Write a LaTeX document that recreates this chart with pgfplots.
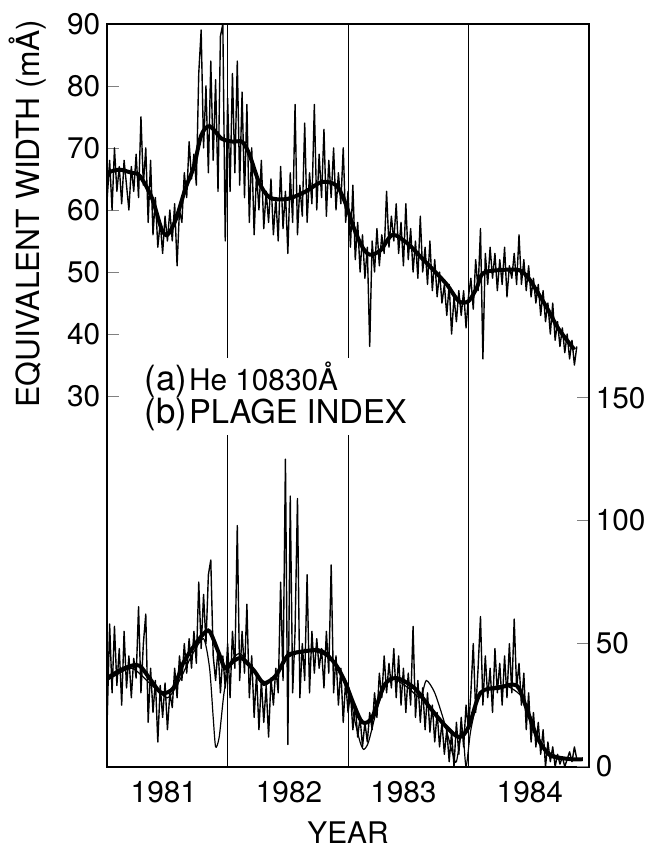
\documentclass[border=0pt]{standalone}
\usepackage{fontspec}
\setmainfont{TeX Gyre Heros}
\usepackage{pgfplots}
\pgfplotsset{compat=1.18}

\begin{document}
\begin{tikzpicture}
% panel (a): He 10830 equivalent width, left axis
\begin{axis}[
    width=242.5pt, height=374pt, scale only axis,
    xmin=1981, xmax=1985,
    ymin=-29.7, ymax=90,
    ytick={30,40,...,90},
    ytick pos=left,
    tick align=inside,
    major tick length=6pt,
    xtick={1981.47,1982.51,1983.46,1984.51},
    xticklabels={1981,1982,1983,1984},
    x tick style={draw=none},
    extra x ticks={1982,1983,1984},
    extra x tick labels={},
    extra x tick style={grid=major, major grid style={black, line width=0.45pt}, major tick length=0pt},
    ticklabel style={font=\fontsize{15}{18}\selectfont},
    x tick label style={yshift=-4pt},
    /pgf/number format/assume math mode=true,
    xlabel={YEAR},
    xlabel style={at={(rel axis cs:0.5,0)}, anchor=north, inner sep=0.5pt, yshift=-27pt, font=\fontsize{15}{18}\selectfont},
    axis line style={line width=1pt},
    clip=false,
]
\coordinate (sw) at (rel axis cs:0,0);
\coordinate (ne) at (rel axis cs:1,1);
\node[rotate=90, font=\fontsize{16}{19}\selectfont] at ([xshift=-40pt]axis cs:1981,59.4) {EQUIVALENT WIDTH (mÅ)};

\addplot[black, line width=0.7pt, line join=round] coordinates {
(1981.00,62) (1981.02,68) (1981.04,60) (1981.06,70) (1981.08,63) (1981.10,67) (1981.12,61) (1981.14,68)
(1981.16,64) (1981.18,60) (1981.20,67) (1981.22,63) (1981.24,69) (1981.26,62) (1981.28,75) (1981.30,64)
(1981.32,70) (1981.34,58) (1981.36,68) (1981.38,56) (1981.40,62) (1981.42,54) (1981.44,58) (1981.46,53)
(1981.48,59) (1981.50,55) (1981.52,60) (1981.54,55) (1981.56,61) (1981.58,51) (1981.60,60) (1981.62,58)
(1981.64,66) (1981.66,62) (1981.68,71) (1981.70,65) (1981.72,69) (1981.74,64) (1981.76,82) (1981.78,89)
(1981.80,70) (1981.82,80) (1981.84,66) (1981.86,84) (1981.88,68) (1981.90,81) (1981.92,63) (1981.94,88)
(1981.96,90) (1981.98,55) (1982.00,78) (1982.02,63) (1982.04,82) (1982.06,66) (1982.08,84) (1982.10,64)
(1982.12,79) (1982.14,62) (1982.16,77) (1982.18,58) (1982.20,70) (1982.22,56) (1982.24,66) (1982.26,60)
(1982.28,68) (1982.30,57) (1982.32,63) (1982.34,58) (1982.36,65) (1982.38,56) (1982.40,62) (1982.42,55)
(1982.44,67) (1982.46,57) (1982.48,63) (1982.50,53) (1982.52,66) (1982.54,58) (1982.56,77) (1982.58,56)
(1982.60,64) (1982.62,59) (1982.64,74) (1982.66,58) (1982.68,66) (1982.70,61) (1982.72,77) (1982.74,60)
(1982.76,69) (1982.78,62) (1982.80,73) (1982.82,59) (1982.84,68) (1982.86,62) (1982.88,70) (1982.90,60)
(1982.92,66) (1982.94,61) (1982.96,70) (1982.98,58) (1983.00,63) (1983.02,54) (1983.04,64) (1983.06,52)
(1983.08,58) (1983.10,50) (1983.12,56) (1983.14,49) (1983.16,54) (1983.18,38) (1983.20,55) (1983.22,50)
(1983.24,57) (1983.26,51) (1983.28,56) (1983.30,53) (1983.32,63) (1983.34,54) (1983.36,59) (1983.38,55)
(1983.40,61) (1983.42,53) (1983.44,58) (1983.46,51) (1983.48,61) (1983.50,52) (1983.52,57) (1983.54,50)
(1983.56,55) (1983.58,49) (1983.60,59) (1983.62,50) (1983.64,54) (1983.66,48) (1983.68,55) (1983.70,47)
(1983.72,52) (1983.74,46) (1983.76,50) (1983.78,45) (1983.80,48) (1983.82,43) (1983.84,48) (1983.86,40)
(1983.88,46) (1983.90,42) (1983.92,47) (1983.94,43) (1983.96,47) (1983.98,41) (1984.00,46) (1984.02,49)
(1984.04,44) (1984.06,52) (1984.08,47) (1984.10,57) (1984.12,36) (1984.14,53) (1984.16,48) (1984.18,54)
(1984.20,49) (1984.22,53) (1984.24,47) (1984.26,52) (1984.28,48) (1984.30,54) (1984.32,46) (1984.34,51)
(1984.36,49) (1984.38,53) (1984.40,48) (1984.42,56) (1984.44,48) (1984.46,52) (1984.48,47) (1984.50,51)
(1984.52,46) (1984.54,49) (1984.56,45) (1984.58,48) (1984.60,43) (1984.62,47) (1984.64,42) (1984.66,45)
(1984.68,40) (1984.70,45) (1984.72,39) (1984.74,42) (1984.76,38) (1984.78,41) (1984.80,37) (1984.82,40)
(1984.84,36) (1984.86,39) (1984.88,35) (1984.90,38)
};
\addplot[black, line width=2pt, smooth, tension=0.5] coordinates {
(1981.00,66) (1981.10,66.5) (1981.20,66) (1981.27,65.5) (1981.37,62) (1981.45,57) (1981.50,56)
(1981.57,58.5) (1981.65,63.5) (1981.72,67) (1981.78,72) (1981.85,73.5) (1981.95,71.5) (1982.05,71)
(1982.12,71) (1982.18,69) (1982.26,64.5) (1982.35,62) (1982.50,61.8) (1982.65,63) (1982.78,64.5)
(1982.90,64) (1982.97,61.5) (1983.05,57) (1983.12,54) (1983.18,52.8) (1983.27,53.5) (1983.37,56)
(1983.50,54.5) (1983.60,52.5) (1983.70,50.5) (1983.82,48) (1983.92,45.3) (1984.00,45.3) (1984.07,47.5)
(1984.12,49.8) (1984.25,50.3) (1984.42,50.3) (1984.50,49) (1984.55,47.5) (1984.65,44.3) (1984.75,40.8)
(1984.88,37.5)
};
\end{axis}

% panel (b): plage index, right axis
\begin{axis}[
    width=242.5pt, height=374pt, scale only axis,
    xmin=1981, xmax=1985,
    ymin=0, ymax=302,
    axis y line*=right,
    axis x line=none,
    ytick={0,50,100,150},
    tick align=inside,
    major tick length=6pt,
    ticklabel style={font=\fontsize{15}{18}\selectfont},
    /pgf/number format/assume math mode=true,
    axis line style={line width=1pt},
]
\addplot[black, line width=0.7pt, line join=round] coordinates {
(1981.00,20) (1981.02,58) (1981.04,30) (1981.06,57) (1981.08,33) (1981.10,48) (1981.12,25) (1981.14,55)
(1981.16,32) (1981.18,45) (1981.20,28) (1981.22,44) (1981.24,36) (1981.26,65) (1981.28,30) (1981.30,50)
(1981.32,62) (1981.34,18) (1981.36,40) (1981.38,22) (1981.40,35) (1981.42,10) (1981.44,33) (1981.46,20)
(1981.48,34) (1981.50,15) (1981.52,30) (1981.54,24) (1981.56,40) (1981.58,28) (1981.60,45) (1981.62,35)
(1981.64,50) (1981.66,38) (1981.68,52) (1981.70,40) (1981.72,55) (1981.74,42) (1981.76,75) (1981.78,48)
(1981.80,70) (1981.82,50) (1981.84,78) (1981.86,84) (1981.88,45) (1981.90,35) (1981.92,48) (1981.94,30)
(1981.96,45) (1981.98,32) (1982.00,50) (1982.02,28) (1982.04,55) (1982.06,40) (1982.08,98) (1982.10,35)
(1982.12,55) (1982.14,38) (1982.16,66) (1982.18,28) (1982.20,45) (1982.22,20) (1982.24,38) (1982.26,15)
(1982.28,35) (1982.30,18) (1982.32,33) (1982.34,12) (1982.36,36) (1982.38,25) (1982.40,40) (1982.42,30)
(1982.44,75) (1982.46,35) (1982.48,125) (1982.50,9) (1982.52,110) (1982.54,30) (1982.56,55) (1982.58,109)
(1982.60,28) (1982.62,50) (1982.64,35) (1982.66,78) (1982.68,30) (1982.70,55) (1982.72,38) (1982.74,52)
(1982.76,40) (1982.78,48) (1982.80,32) (1982.82,55) (1982.84,38) (1982.86,82) (1982.88,30) (1982.90,45)
(1982.92,25) (1982.94,40) (1982.96,18) (1982.98,35) (1983.00,22) (1983.02,30) (1983.04,15) (1983.06,25)
(1983.08,12) (1983.10,20) (1983.12,8) (1983.14,18) (1983.16,10) (1983.18,22) (1983.20,15) (1983.22,30)
(1983.24,20) (1983.26,38) (1983.28,28) (1983.30,45) (1983.32,30) (1983.34,42) (1983.36,32) (1983.38,48)
(1983.40,28) (1983.42,45) (1983.44,25) (1983.46,40) (1983.48,22) (1983.50,38) (1983.52,25) (1983.54,57)
(1983.56,20) (1983.58,35) (1983.60,18) (1983.62,32) (1983.64,15) (1983.66,30) (1983.68,14) (1983.70,25)
(1983.72,10) (1983.74,22) (1983.76,8) (1983.78,18) (1983.80,5) (1983.82,15) (1983.84,2) (1983.86,14)
(1983.88,0) (1983.90,18) (1983.92,5) (1983.94,20) (1983.96,8) (1983.98,25) (1984.00,15) (1984.02,30)
(1984.04,50) (1984.06,22) (1984.08,40) (1984.10,61) (1984.12,25) (1984.14,45) (1984.16,28) (1984.18,40)
(1984.20,22) (1984.22,48) (1984.24,30) (1984.26,42) (1984.28,25) (1984.30,45) (1984.32,28) (1984.34,50)
(1984.36,30) (1984.38,60) (1984.40,32) (1984.42,42) (1984.44,25) (1984.46,38) (1984.48,15) (1984.50,30)
(1984.52,10) (1984.54,22) (1984.56,8) (1984.58,18) (1984.60,5) (1984.62,15) (1984.64,0) (1984.66,10)
(1984.68,2) (1984.70,8) (1984.72,0) (1984.74,5) (1984.76,1) (1984.78,4) (1984.80,0) (1984.82,3)
(1984.84,6) (1984.86,2) (1984.88,8) (1984.90,3)
};
\addplot[black, line width=0.6pt, smooth, tension=0.4] coordinates {
(1981.00,35) (1981.20,40) (1981.35,34) (1981.50,28) (1981.60,35) (1981.70,45) (1981.80,52) (1981.85,40)
(1981.88,20) (1981.90,8) (1981.93,12) (1981.97,30) (1982.02,42) (1982.10,46) (1982.20,40) (1982.30,33)
(1982.40,37) (1982.50,46) (1982.70,47) (1982.85,44) (1983.00,33) (1983.05,20) (1983.10,10) (1983.13,7)
(1983.17,10) (1983.25,25) (1983.35,36) (1983.50,32) (1983.60,28) (1983.65,35) (1983.72,30) (1983.80,18)
(1983.87,5) (1983.90,2) (1983.95,15) (1983.98,0) (1984.02,15) (1984.10,30) (1984.30,33) (1984.45,28)
(1984.55,15) (1984.65,5) (1984.75,3) (1984.90,3)
};
\addplot[black, line width=2pt, smooth, tension=0.5] coordinates {
(1981.00,36) (1981.10,39) (1981.20,41) (1981.27,41) (1981.35,36) (1981.45,30) (1981.55,32) (1981.63,42)
(1981.72,49) (1981.80,54) (1981.85,55) (1981.92,47) (1981.98,40) (1982.05,43) (1982.12,44) (1982.22,39)
(1982.30,34) (1982.40,37) (1982.50,45) (1982.65,47) (1982.78,47) (1982.89,42) (1982.97,35) (1983.05,25)
(1983.12,18) (1983.20,20) (1983.30,33) (1983.40,36) (1983.55,32) (1983.68,24) (1983.80,17) (1983.92,12)
(1984.00,16) (1984.10,30) (1984.25,32) (1984.40,33) (1984.48,24) (1984.57,12) (1984.65,6) (1984.72,4)
(1984.85,3) (1984.95,3)
};
\node[anchor=west, fill=white, inner xsep=1pt, inner ysep=2pt, align=left] at (axis cs:1981.29,150.5)
  {{\fontsize{17.5}{20}\selectfont (a)}\hspace{1pt}{\fontsize{15}{18}\selectfont He 10830Å}\\[-1pt]
   {\fontsize{17.5}{20}\selectfont (b)}\hspace{1pt}{\fontsize{16.5}{19}\selectfont PLAGE INDEX}};
\end{axis}
\pgfresetboundingbox
\path[use as bounding box] ([xshift=-54pt,yshift=-43pt]sw) rectangle ([xshift=30.5pt,yshift=12pt]ne);
\end{tikzpicture}
\end{document}
